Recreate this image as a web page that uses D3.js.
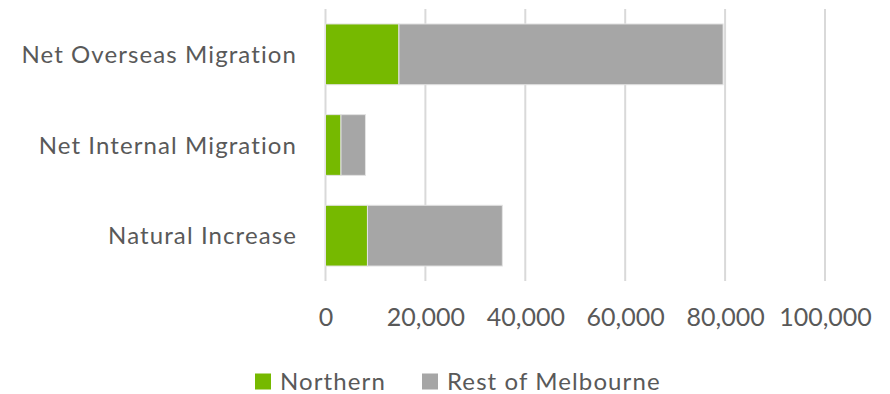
<!DOCTYPE html>
<html>
<head>
<meta charset="utf-8">
<script src="https://cdn.jsdelivr.net/npm/d3@7"></script>
<style>
  html, body { margin: 0; padding: 0; background: #fff; }
  svg { display: block; }
  text { font-family: Lato, "Open Sans", sans-serif; fill: #595959; font-variant-ligatures: none; }
</style>
</head>
<body>
<svg id="chart" width="890" height="394"></svg>
<script>
// Components of population change
const categories = ["Net Overseas Migration", "Net Internal Migration", "Natural Increase"];
const seriesNames = ["Northern", "Rest of Melbourne"];
const northern = [14700, 3100, 8400];
const restOfMelbourne = [64900, 4900, 27000];
const tickValues = [0, 20000, 40000, 60000, 80000, 100000];
const colors = ["#76B900", "#A6A6A6"];

const svg = d3.select("#chart");
const plot = { left: 325.5, right: 825, top: 9, bottom: 281 };

const x = d3.scaleLinear().domain([0, 100000]).range([plot.left, plot.right]);
const y = d3.scaleBand().domain(categories).range([plot.top, plot.bottom])
  .paddingInner(0.33).paddingOuter(0.165);

// Vertical gridlines
svg.append("g")
  .selectAll("line")
  .data(tickValues)
  .join("line")
  .attr("x1", d => x(d)).attr("x2", d => x(d))
  .attr("y1", plot.top).attr("y2", plot.bottom)
  .attr("stroke", "#D9D9D9")
  .attr("stroke-width", 2);

// Stacked bars
const rows = categories.map((c, i) => ({ category: c, Northern: northern[i], "Rest of Melbourne": restOfMelbourne[i] }));
const stacked = d3.stack().keys(seriesNames)(rows);

svg.append("g")
  .selectAll("g")
  .data(stacked)
  .join("g")
  .attr("fill", (d, i) => colors[i])
  .selectAll("rect")
  .data(d => d)
  .join("rect")
  .attr("x", d => x(d[0]))
  .attr("y", d => y(d.data.category))
  .attr("width", d => x(d[1]) - x(d[0]))
  .attr("height", y.bandwidth())
  .attr("stroke", "#E3E3E3")
  .attr("stroke-width", 1);

// Category labels
svg.append("g")
  .selectAll("text")
  .data(categories)
  .join("text")
  .attr("x", 297)
  .attr("y", d => y(d) + y.bandwidth() / 2 + 8.5)
  .attr("text-anchor", "end")
  .attr("font-size", 24)
  .attr("letter-spacing", 1.1)
  .text(d => d);

// Value axis labels
const axis = d3.axisBottom(x)
  .tickValues(tickValues)
  .tickFormat(d3.format(","))
  .tickSize(0)
  .tickPadding(0);

const axisG = svg.append("g")
  .attr("transform", `translate(0, ${plot.bottom})`)
  .call(axis);
axisG.select(".domain").remove();
axisG.selectAll("text")
  .attr("dy", null)
  .attr("y", 45)
  .attr("font-size", 25)
  .attr("font-family", "Lato, 'Open Sans', sans-serif")
  .attr("fill", "#595959");

// Legend
const legendItems = [
  { name: seriesNames[0], color: colors[0], x: 255 },
  { name: seriesNames[1], color: colors[1], x: 422 }
];
const legend = svg.append("g");
legend.selectAll("rect")
  .data(legendItems)
  .join("rect")
  .attr("x", d => d.x)
  .attr("y", 373.5)
  .attr("width", 16)
  .attr("height", 16)
  .attr("fill", d => d.color);
legend.selectAll("text")
  .data(legendItems)
  .join("text")
  .attr("x", d => d.x + 25)
  .attr("y", 390)
  .attr("font-size", 24)
  .attr("letter-spacing", 1.1)
  .text(d => d.name);
</script>
</body>
</html>
